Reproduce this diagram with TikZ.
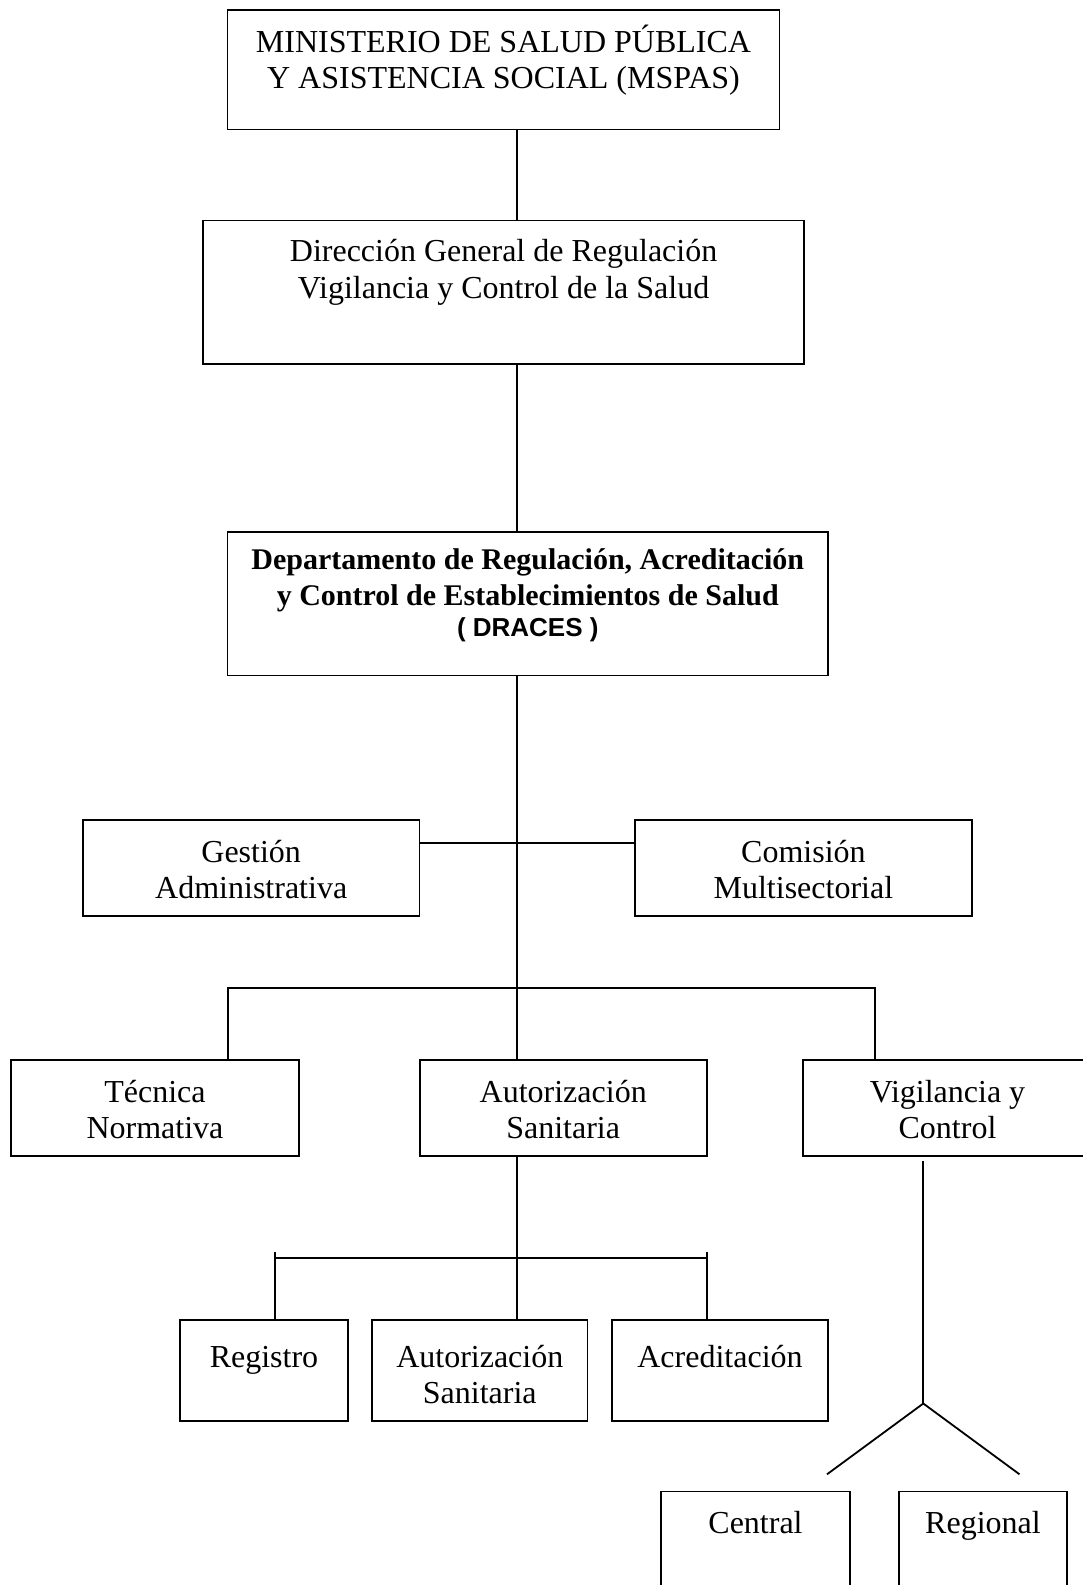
\documentclass[tikz,border=0pt]{standalone}
\usepackage{fontspec}
\setmainfont{Liberation Serif}
\newfontfamily\arialf{Liberation Sans}
\begin{document}
\begin{tikzpicture}[x=1pt,y=-1pt,line width=1.8pt,
  box/.style={draw,rectangle,inner sep=0pt},
  txt/.style={align=center,anchor=base,inner sep=0pt,font=\fontsize{32pt}{36.4pt}\selectfont},
  btxt/.style={align=center,anchor=base,inner sep=0pt,font=\fontsize{30pt}{35.4pt}\selectfont\bfseries}]
\useasboundingbox[fill=white] (0,0) rectangle (1083,1585);
% boxes
\node[box,minimum width=552pt,minimum height=119.4pt] (mspas) at (503.5,69.7) {};
\node[box,minimum width=600.7pt,minimum height=143.6pt] (dgr) at (503.6,292.2) {};
\node[box,minimum width=600.7pt,minimum height=143.5pt] (draces) at (527.8,603.7) {};
\node[box,minimum width=336.7pt,minimum height=96pt] (gest) at (251.2,868) {};
\node[box,minimum width=336.8pt,minimum height=96pt] (comi) at (803.4,868) {};
\node[box,minimum width=288pt,minimum height=96pt] (tecn) at (155,1108) {};
\node[box,minimum width=287.2pt,minimum height=96pt] (auto) at (563.2,1108) {};
\node[box,minimum width=289pt,minimum height=96pt] (vigi) at (947.5,1108) {};
\node[box,minimum width=168pt,minimum height=100.7pt] (regi) at (264,1370.3) {};
\node[box,minimum width=215.4pt,minimum height=100.7pt] (aut2) at (479.8,1370.3) {};
\node[box,minimum width=216.4pt,minimum height=100.7pt] (acre) at (720,1370.3) {};
\node[box,minimum width=189pt,minimum height=120pt] (cent) at (755.5,1551.5) {};
\node[box,minimum width=168pt,minimum height=120pt] (regn) at (983,1551.5) {};
% texts (base anchor = baseline of last line)
\node[txt] (mspas-t) at (503.5,88.9) {MINISTERIO DE SALUD PÚBLICA\\Y ASISTENCIA SOCIAL (MSPAS)};
\node[txt] (dgr-t) at (503.6,298.2) {Dirección General de Regulación\\Vigilancia y Control de la Salud};
\node[btxt] (draces-t) at (527.8,636.7) {Departamento de Regulación, Acreditación\\y Control de Establecimientos de Salud\\[-4pt]{\arialf\bfseries\fontsize{26pt}{30pt}\selectfont ( DRACES )}};
\node[txt] (gest-t) at (251.2,898.8) {Gestión\\Administrativa};
\node[txt] (comi-t) at (803.4,898.8) {Comisión\\Multisectorial};
\node[txt] (tecn-t) at (155,1138.4) {Técnica\\Normativa};
\node[txt] (auto-t) at (563.2,1138.4) {Autorización\\Sanitaria};
\node[txt] (vigi-t) at (947.5,1138.4) {Vigilancia y\\Control};
\node[txt] (regi-t) at (264,1367) {Registro};
\node[txt] (aut2-t) at (479.8,1403.4) {Autorización\\Sanitaria};
\node[txt] (acre-t) at (720,1367) {Acreditación};
\node[txt] (cent-t) at (755.5,1533) {Central};
\node[txt] (regn-t) at (983,1533) {Regional};
% helper coordinates
\coordinate (sp) at (516.7,0);
\coordinate (h1) at (0,843.3);
\coordinate (h2) at (0,988);
\coordinate (tl) at (227.7,0);
\coordinate (vl) at (874.7,0);
\coordinate (h3) at (0,1258);
\coordinate (tk) at (0,1251.7);
\coordinate (rl) at (275.3,0);
\coordinate (al) at (706.8,0);
\coordinate (vv) at (923.3,1161.3);
\coordinate (ap) at (923.3,1403.5);
\coordinate (dl) at (827,1474.3);
\coordinate (dr) at (1019.5,1474.3);
% connectors
\draw (mspas.south -| sp) -- (dgr.north -| sp);
\draw (dgr.south -| sp) -- (draces.north -| sp);
\draw (draces.south -| sp) -- (auto.north -| sp);
\draw (gest.east |- h1) -- (comi.west |- h1);
\draw (tecn.north -| tl) -- (tl |- h2) -- (vl |- h2) -- (vigi.north -| vl);
\draw (auto.south -| sp) -- (aut2.north -| sp);
\draw (rl |- tk) -- (regi.north -| rl);
\draw (al |- tk) -- (acre.north -| al);
\draw (rl |- h3) -- (al |- h3);
\draw (vv) -- (ap);
\draw (dl) -- (ap) -- (dr);
\end{tikzpicture}
\end{document}
